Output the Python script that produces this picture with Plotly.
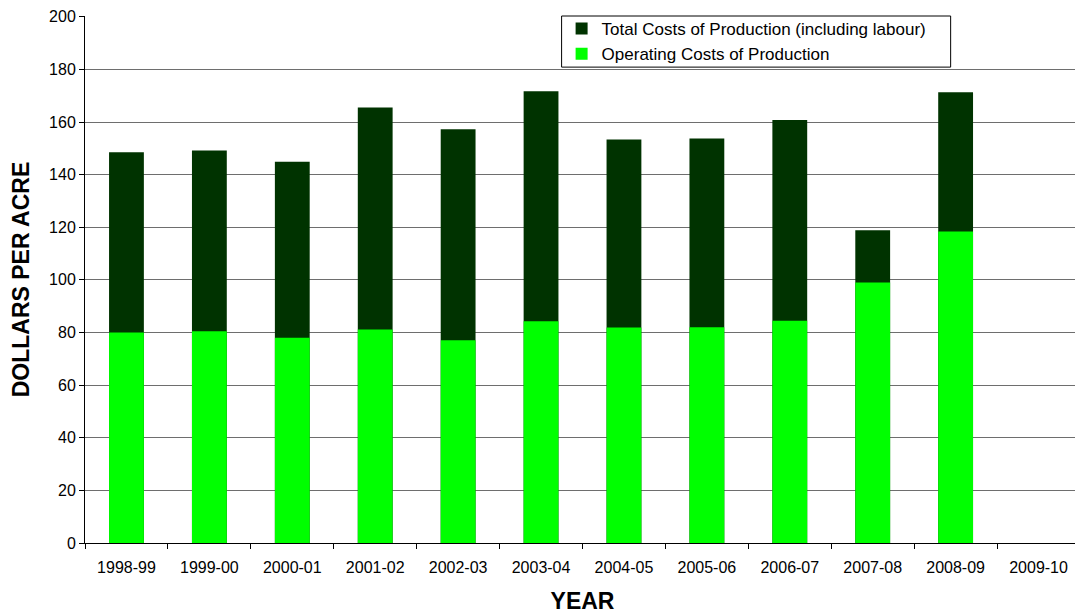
import plotly.graph_objects as go

years = ["1998-99", "1999-00", "2000-01", "2001-02", "2002-03", "2003-04",
         "2004-05", "2005-06", "2006-07", "2007-08", "2008-09", "2009-10"]
total_costs = [148.5, 149.2, 144.9, 165.5, 157.3, 171.7, 153.4, 153.7, 160.8, 118.9, 171.3, None]
operating_costs = [80.0, 80.5, 78.0, 81.1, 77.1, 84.3, 81.9, 82.0, 84.5, 99.0, 118.4, None]
y_ticks = [0, 20, 40, 60, 80, 100, 120, 140, 160, 180, 200]

fig = go.Figure()
fig.add_trace(go.Bar(
    x=years, y=total_costs, name="Total Costs of Production (including labour)",
    marker=dict(color="#003300", line=dict(width=0)),
))
fig.add_trace(go.Bar(
    x=years, y=operating_costs, name="Operating Costs of Production",
    marker=dict(color="#00FF00", line=dict(width=0)),
))

# legend frame (drawn as a paper-space box behind the legend entries)
fig.add_shape(
    type="rect", xref="paper", yref="paper",
    x0=0.479, x1=0.870, y0=0.903, y1=1.0,
    line=dict(color="black", width=1), fillcolor="white", layer="above",
)

# page body has an 8px margin, so the figure is sized to fit the window
fig.update_layout(
    width=1075, height=606,
    margin=dict(l=77, r=3, t=8, b=71),
    paper_bgcolor="white", plot_bgcolor="white",
    barmode="overlay", bargap=0.58,
    font=dict(family="Liberation Sans, Arial, sans-serif", size=16, color="black"),
    showlegend=True,
    legend=dict(
        x=0.479, y=1.0095, xanchor="left", yanchor="top",
        borderwidth=0, bgcolor="rgba(0,0,0,0)",
        font=dict(size=17), traceorder="normal",
        itemwidth=30, tracegroupgap=0,
    ),
    xaxis=dict(
        type="category", categoryorder="array", categoryarray=years,
        showline=True, linecolor="black", linewidth=1,
        ticks="outside", tickson="boundaries", ticklen=5, tickcolor="black",
        ticklabelstandoff=10,
        showgrid=False, range=[-0.5, 11.5], automargin=False,
        title=dict(text="<b>YEAR</b>", font=dict(size=23), standoff=18),
    ),
    yaxis=dict(
        range=[0, 200.3], tickvals=y_ticks, ticklabeloverflow="allow",
        showline=True, linecolor="black", linewidth=1,
        ticks="outside", ticklen=5, tickcolor="black",
        showgrid=True, gridcolor="#6e6e6e", gridwidth=1,
        zeroline=False, automargin=False,
        title=dict(text="<b>DOLLARS PER ACRE</b>", font=dict(size=23), standoff=14),
    ),
)

fig.write_html("out.html")
